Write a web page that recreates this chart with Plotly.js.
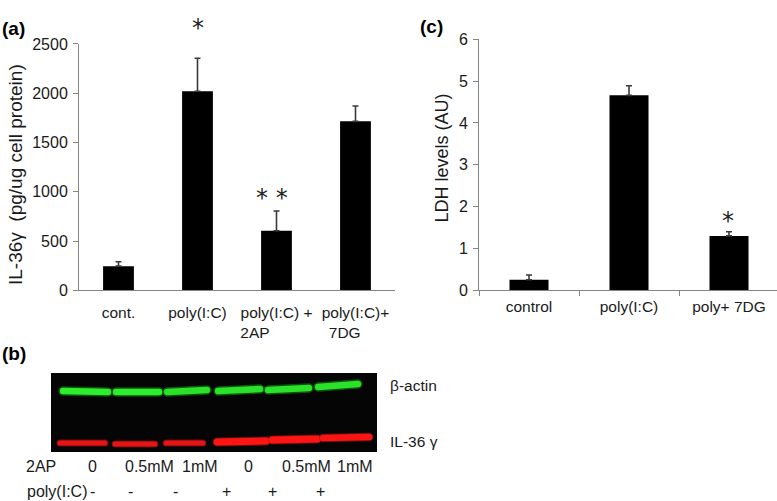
<!DOCTYPE html>
<html>
<head>
<meta charset="utf-8">
<script src="https://cdn.plot.ly/plotly-3.0.1.min.js"></script>
<style>
html,body{margin:0;padding:0;background:#fff;}
#chart{width:777px;height:501px;}
path.js-line{stroke-linecap:round !important;}
</style>
</head>
<body>
<div id="chart"></div>
<script>
// ---------- Panel (a): IL-36γ ----------
const catsA = ['cont.', 'poly(I:C)', 'poly(I:C) +<br>2AP' + '&nbsp;'.repeat(10), 'poly(I:C)+<br>7DG' + '&nbsp;'.repeat(5)];
const valsA = [245, 2020, 605, 1715];
const errA  = [45, 335, 200, 155];
const ticksA = [0, 500, 1000, 1500, 2000, 2500];

// ---------- Panel (c): LDH ----------
const catsC = ['control', 'poly(I:C)', 'poly+ 7DG'];
const valsC = [0.25, 4.66, 1.30];
const errC  = [0.115, 0.23, 0.10];
const ticksC = [0, 1, 2, 3, 4, 5, 6];

// ---------- Panel (b): western blot ----------
const lanes      = [1, 2, 3, 4, 5, 6];
const lane2AP    = ['0', '0.5mM', '1mM', '0', '0.5mM', '1mM'];
const lanePoly   = ['-', '-', '-', '+', '+', '+'];
// band extents (lane units) and migration (relative height in blot)
const greenX0 = [0.57, 1.61, 2.61, 3.61, 4.59, 5.57];
const greenX1 = [1.45, 2.45, 3.39, 4.43, 5.39, 6.35];
const greenYL = [0.772, 0.760, 0.760, 0.772, 0.785, 0.823];
const greenYR = [0.760, 0.760, 0.785, 0.797, 0.810, 0.861];
const greenI  = [1.0, 1.0, 0.95, 0.95, 0.95, 0.95];
const redX0   = [0.51, 1.59, 2.59, 3.59, 4.67, 5.67];
const redX1   = [1.39, 2.37, 3.31, 4.55, 5.55, 6.57];
const redYL   = [0.114, 0.101, 0.114, 0.127, 0.152, 0.177];
const redYR   = [0.114, 0.101, 0.114, 0.139, 0.165, 0.190];
const redI    = [0.55, 0.55, 0.55, 1.0, 1.0, 0.9];

const FONT = 'Liberation Sans, Arial, sans-serif';
const TXT = '#1a1a1a';
const AX = '#858585';

const traces = [];
traces.push({
  type: 'bar', x: catsA, y: valsA, xaxis: 'x', yaxis: 'y', width: 0.39,
  marker: {color: '#000', line: {width: 0}},
  error_y: {type: 'data', symmetric: false, array: errA, arrayminus: valsA.map(() => 0),
            color: '#3a3a3a', thickness: 1.6, width: 3},
  hoverinfo: 'none'
});
traces.push({
  type: 'bar', x: catsC, y: valsC, xaxis: 'x2', yaxis: 'y2', width: 0.39,
  marker: {color: '#000', line: {width: 0}},
  error_y: {type: 'data', symmetric: false, array: errC, arrayminus: valsC.map(() => 0),
            color: '#3a3a3a', thickness: 1.6, width: 3},
  hoverinfo: 'none'
});

// blot bands
lanes.forEach((l, i) => {
  traces.push({type: 'scatter', mode: 'lines', xaxis: 'x3', yaxis: 'y3',
    x: [greenX0[i], greenX1[i]], y: [greenYL[i], greenYR[i]],
    line: {color: 'rgba(20,150,20,0.55)', width: 9.5}, hoverinfo: 'none'});
  traces.push({type: 'scatter', mode: 'lines', xaxis: 'x3', yaxis: 'y3',
    x: [greenX0[i], greenX1[i]], y: [greenYL[i], greenYR[i]],
    line: {color: 'rgb(' + Math.round(45 * greenI[i]) + ',' + Math.round(238 * greenI[i]) + ',' + Math.round(45 * greenI[i]) + ')', width: 6.5}, hoverinfo: 'none'});
  const rw = 3 + 4 * redI[i];
  traces.push({type: 'scatter', mode: 'lines', xaxis: 'x3', yaxis: 'y3',
    x: [redX0[i], redX1[i]], y: [redYL[i], redYR[i]],
    line: {color: 'rgba(170,20,20,0.6)', width: rw + 2}, hoverinfo: 'none'});
  traces.push({type: 'scatter', mode: 'lines', xaxis: 'x3', yaxis: 'y3',
    x: [redX0[i], redX1[i]], y: [redYL[i], redYR[i]],
    line: {color: 'rgb(' + Math.round(200 + 55 * redI[i]) + ',20,20)', width: rw}, hoverinfo: 'none'});
});

const annotations = [];
// axis titles
annotations.push({xref: 'paper', yref: 'paper', x: 15 / 777, y: 1 - 175 / 501, text: 'IL-36γ  (pg/ug cell protein)',
  textangle: -90, showarrow: false, xanchor: 'center', yanchor: 'middle', font: {family: FONT, size: 19, color: TXT}});
annotations.push({xref: 'paper', yref: 'paper', x: 441 / 777, y: 1 - 158.5 / 501, text: 'LDH levels (AU)',
  textangle: -90, showarrow: false, xanchor: 'center', yanchor: 'middle', font: {family: FONT, size: 18, color: TXT}});
// significance marks
annotations.push({xref: 'x', yref: 'y', x: catsA[1], y: valsA[1] + errA[1], text: '*', showarrow: false,
  yshift: 30, font: {family: 'DejaVu Sans', size: 24, color: '#222'}});
annotations.push({xref: 'x', yref: 'y', x: catsA[2], y: valsA[2] + errA[2], text: '* *', showarrow: false,
  xshift: -5, yshift: 13, font: {family: 'DejaVu Sans', size: 24, color: '#222'}});
annotations.push({xref: 'x2', yref: 'y2', x: catsC[2], y: valsC[2] + errC[2], text: '*', showarrow: false,
  xshift: -1, yshift: 11, font: {family: 'DejaVu Sans', size: 24, color: '#222'}});
// panel letters
annotations.push({xref: 'paper', yref: 'paper', x: 13.5 / 777, y: 1 - 29 / 501, text: '<b>(a)</b>', showarrow: false,
  xanchor: 'center', yanchor: 'middle', font: {family: FONT, size: 19, color: '#000'}});
annotations.push({xref: 'paper', yref: 'paper', x: 13.5 / 777, y: 1 - 353 / 501, text: '<b>(b)</b>', showarrow: false,
  xanchor: 'center', yanchor: 'middle', font: {family: FONT, size: 19, color: '#000'}});
annotations.push({xref: 'paper', yref: 'paper', x: 431 / 777, y: 1 - 27 / 501, text: '<b>(c)</b>', showarrow: false,
  xanchor: 'center', yanchor: 'middle', font: {family: FONT, size: 19, color: '#000'}});
// blot labels
annotations.push({xref: 'paper', yref: 'paper', x: 388 / 777, y: 1 - 385 / 501, text: 'β-actin', showarrow: false,
  xanchor: 'left', yanchor: 'middle', font: {family: FONT, size: 15.5, color: TXT}});
annotations.push({xref: 'paper', yref: 'paper', x: 388 / 777, y: 1 - 441 / 501, text: 'IL-36 γ', showarrow: false,
  xanchor: 'left', yanchor: 'middle', font: {family: FONT, size: 15.5, color: TXT}});
annotations.push({xref: 'paper', yref: 'paper', x: 40.5 / 777, y: 1 - 466 / 501, text: '2AP', showarrow: false,
  xanchor: 'center', yanchor: 'middle', font: {family: FONT, size: 16, color: TXT}});
annotations.push({xref: 'paper', yref: 'paper', x: 25 / 777, y: 1 - 491 / 501, text: 'poly(I:C)', showarrow: false,
  xanchor: 'left', yanchor: 'middle', font: {family: FONT, size: 16, color: TXT}});
const offs2AP  = [0.15, 0.27, 0.25, 0.21, 0.35, 0.29];
const offsPoly = [0.14, -0.10, -0.22, -0.23, -0.33, -0.38];
lanes.forEach((l, i) => {
  annotations.push({xref: 'x3', yref: 'paper', x: l + offs2AP[i], y: 1 - 466 / 501, text: lane2AP[i], showarrow: false,
    xanchor: 'center', yanchor: 'middle', font: {family: FONT, size: 16, color: TXT}});
  annotations.push({xref: 'x3', yref: 'paper', x: l + offsPoly[i], y: 1 - 491 / 501, text: lanePoly[i], showarrow: false,
    xanchor: 'center', yanchor: 'middle', font: {family: FONT, size: 16, color: TXT}});
});

const layout = {
  width: 777, height: 501,
  margin: {l: 0, r: 0, t: 0, b: 0},
  paper_bgcolor: '#fff', plot_bgcolor: 'rgba(0,0,0,0)',
  showlegend: false,
  font: {family: FONT, color: TXT},
  xaxis: {domain: [79 / 777, 395 / 777], anchor: 'y', type: 'category', range: [-0.5, 3.5],
    showline: true, linecolor: AX, linewidth: 1, ticks: '', showgrid: false, zeroline: false,
    tickfont: {size: 15.5, color: TXT}, ticklabelstandoff: 8, fixedrange: true},
  yaxis: {domain: [0.4206, 0.9122], anchor: 'x', range: [0, 2500], tickvals: ticksA,
    showline: true, linecolor: AX, linewidth: 1, ticks: 'outside', ticklen: 5, tickcolor: AX,
    showgrid: false, zeroline: false, tickfont: {size: 16, color: TXT}, ticklabelstandoff: 2},
  xaxis2: {domain: [479 / 777, 1], anchor: 'y2', type: 'category', range: [-0.5, 2.48],
    showline: true, linecolor: AX, linewidth: 1, ticks: 'outside', ticklen: 5, tickcolor: AX,
    tickson: 'boundaries', showgrid: false, zeroline: false,
    tickfont: {size: 15.5, color: TXT}, ticklabelstandoff: 2},
  yaxis2: {domain: [0.4206, 0.9216], anchor: 'x2', range: [0, 6], tickvals: ticksC,
    showline: true, linecolor: AX, linewidth: 1, ticks: 'outside', ticklen: 5, tickcolor: AX,
    showgrid: false, zeroline: false, tickfont: {size: 16, color: TXT}, ticklabelstandoff: 2},
  xaxis3: {domain: [51 / 777, 377 / 777], anchor: 'y3', range: [0.333, 6.725], visible: false, fixedrange: true},
  yaxis3: {domain: [49 / 501, 128 / 501], anchor: 'x3', range: [0, 1], visible: false, fixedrange: true},
  shapes: [{type: 'rect', xref: 'x3 domain', yref: 'y3 domain', x0: 0, x1: 1, y0: 0, y1: 1,
    fillcolor: '#050505', line: {width: 0}, layer: 'below'}],
  annotations: annotations
};

Plotly.newPlot('chart', traces, layout, {displayModeBar: false, staticPlot: true});
</script>
</body>
</html>
